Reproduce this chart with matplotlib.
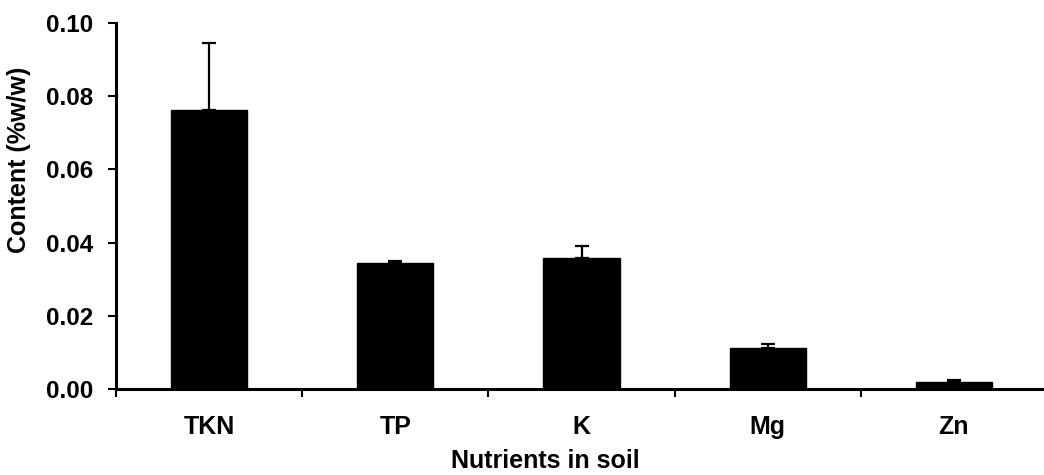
import matplotlib
matplotlib.use("Agg")
import matplotlib.pyplot as plt
import numpy as np

categories = ["TKN", "TP", "K", "Mg", "Zn"]
values = [0.0761, 0.0344, 0.0357, 0.0113, 0.0018]
errors = [0.0184, 0.0007, 0.0033, 0.0009, 0.0007]
yticks = [0.00, 0.02, 0.04, 0.06, 0.08, 0.10]

plt.rcParams['font.family'] = ['Liberation Sans', 'DejaVu Sans']
plt.rcParams['font.weight'] = 'bold'

W, H = 1044, 475
fig = plt.figure(figsize=(W / 100, H / 100), dpi=100)
ax = fig.add_axes([116 / W, 1 - 389 / H, (1047 - 116) / W, (389 - 23) / H])

x = np.arange(len(categories))
ax.bar(x, values, width=0.41, color="black", edgecolor="black", zorder=2)
ax.errorbar(x, values, yerr=[np.zeros(len(values)), errors], fmt="none",
            ecolor="black", elinewidth=1.6, capsize=5, capthick=1.6, zorder=3)

ax.set_xlim(-0.5, len(categories) - 0.5)
ax.set_ylim(0, 0.10)
ax.set_yticks(yticks)
ax.set_yticklabels([f"{v:.2f}" for v in yticks], fontsize=17.5, fontweight="bold")
ax.set_xticks(np.arange(len(categories) + 1) - 0.5)
ax.set_xticklabels([])
ax.set_xticks(x, minor=True)
ax.set_xticklabels(categories, minor=True, fontsize=18, fontweight="bold")
ax.tick_params(axis="x", which="minor", length=0, pad=19)
ax.tick_params(axis="x", which="major", direction="out", length=6, width=1.5)
ax.tick_params(axis="y", direction="out", length=6, width=1.5, pad=10.5)

for s in ["top", "right"]:
    ax.spines[s].set_visible(False)
for s in ["left", "bottom"]:
    ax.spines[s].set_linewidth(2.2)

fig.text(545 / W, 1 - 461 / H, "Nutrients in soil", ha="center", va="center",
         fontsize=18, fontweight="bold")
fig.text(19 / W, 1 - 160 / H, "Content (%w/w)", ha="center", va="center",
         rotation=90, fontsize=18, fontweight="bold")

fig.savefig("out.png", dpi=100)
